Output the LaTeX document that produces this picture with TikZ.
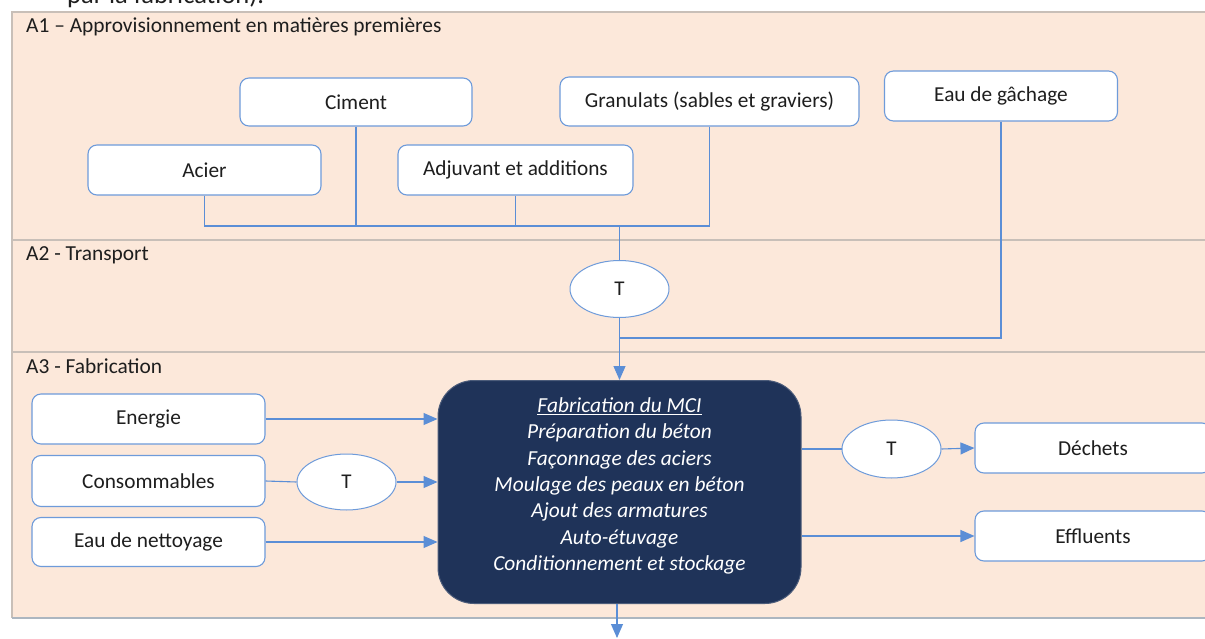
\documentclass[tikz,border=0pt]{standalone}
\usepackage{fontspec}
\setmainfont{Carlito}
\usetikzlibrary{arrows.meta,shapes.geometric}
\definecolor{peach}{RGB}{252,232,218}
\definecolor{bandgray}{RGB}{200,191,184}
\definecolor{bottomgray}{RGB}{172,182,192}
\definecolor{boxblue}{RGB}{110,155,218}
\definecolor{connblue}{RGB}{91,142,214}
\definecolor{navy}{RGB}{31,51,89}
\definecolor{txt}{RGB}{30,30,30}
\tikzset{
  x=1pt, y=-1pt,
  inbox/.style={draw=boxblue, line width=1.1pt, fill=white, rounded corners=9pt,
    inner sep=0pt, font=\fontsize{21.3}{25}\selectfont, text=txt},
  tell/.style={ellipse, draw=boxblue, line width=1pt, fill=white, inner sep=0pt,
    font=\fontsize{21}{25}\selectfont, text=txt},
  conn/.style={draw=connblue, line width=1.1pt},
  arr/.style={conn, -{Triangle[length=14pt,width=12pt]}},
  bandlabel/.style={anchor=base west, inner sep=0pt, font=\fontsize{21.4}{25}\selectfont, text=txt},
}
\begin{document}
\begin{tikzpicture}
\useasboundingbox (0,0) rectangle (1205,639);
% bands
\fill[peach] (12,12) rectangle (1215,618);
\draw[bandgray, line width=1.3pt] (1215,12) -- (12,12) -- (12,618);
\draw[bandgray, line width=1.3pt] (12,240) -- (1215,240);
\draw[bandgray, line width=1.3pt] (12,352) -- (1215,352);
\draw[bottomgray, line width=1.5pt] (12,618) -- (1215,618);
% partial top text (cut off at the top edge, as in the reference)
\node[anchor=base west, inner sep=0pt, font=\fontsize{26.5}{30}\selectfont, text=txt] (toptext) at (67,4) {par la fabrication).};
% band labels
\node[bandlabel] (la1) at (26,33) {A1 – Approvisionnement en matières premières};
\node[bandlabel] (la2) at (26,261) {A2 - Transport};
\node[bandlabel] (la3) at (26,373) {A3 - Fabrication};
% A1 boxes
\node[inbox, minimum width=232pt, minimum height=48pt] (ciment) at (356,102) {Ciment};
\node[inbox, minimum width=299pt, minimum height=49pt] (granulats) at (709.5,101.5) {Granulats (sables et graviers)};
\node[inbox, minimum width=233pt, minimum height=50pt] (eau) at (1001,96) {Eau de gâchage};
\node[inbox, minimum width=233pt, minimum height=50pt] (acier) at (204.5,170) {Acier};
\node[inbox, minimum width=235pt, minimum height=50pt] (adjuv) at (515.5,170) {Adjuvant et additions};
% transport ellipse
\node[tell, minimum width=99pt, minimum height=57pt] (t1) at (619.5,289) {T};
% main box
\node[draw=navy!80!white, line width=1pt, fill=navy, rounded corners=36pt, minimum width=363pt, minimum height=223pt, inner sep=0pt] (main) at (619.5,492) {};
\node[align=center, text=white, font=\fontsize{21.4}{26.3}\selectfont\itshape, inner sep=0pt] (maintext) at (619.5,486)
  {\underline{Fabrication du MCI}\\Préparation du béton\\Façonnage des aciers\\Moulage des peaux en béton\\Ajout des armatures\\Auto-étuvage\\Conditionnement et stockage};
% left boxes
\node[inbox, minimum width=233pt, minimum height=50pt] (energie) at (148.5,419) {Energie};
\node[inbox, minimum width=233pt, minimum height=51pt] (conso) at (148.5,481) {Consommables};
\node[inbox, minimum width=233pt, minimum height=49pt] (nett) at (148.5,542) {Eau de nettoyage};
\node[tell, minimum width=99pt, minimum height=56pt] (t2) at (346.5,482) {T};
% right
\node[tell, minimum width=99pt, minimum height=58pt] (t3) at (891.5,449) {T};
\node[inbox, minimum width=236pt, minimum height=50pt] (dechets) at (1093,448) {Déchets};
\node[inbox, minimum width=236pt, minimum height=50pt] (effluents) at (1093,536) {Effluents};
% coordinates
\coordinate (bus) at (619.5,226);
\coordinate (merge) at (619.5,338);
\coordinate (out) at (617,638);
% A1 connectors
\draw[conn] (acier.south) |- (granulats.south |- bus) -- (granulats.south);
\draw[conn] (ciment.south) -- (ciment.south |- bus);
\draw[conn] (adjuv.south) -- (adjuv.south |- bus);
\draw[conn] (bus) -- (t1.north);
\draw[conn] (eau.south) |- (merge);
\draw[arr] (t1.south) -- (main.north);
% left connectors
\draw[arr] (energie.east) -- (energie.east -| main.west);
\draw[conn] (conso.east) -- (t2.west);
\draw[arr] (t2.east) -- (t2.east -| main.west);
\draw[arr] (nett.east) -- (nett.east -| main.west);
% right connectors
\draw[conn] (main.east |- t3.west) -- (t3.west);
\draw[arr] (t3.east) -- (dechets.west);
\draw[arr] (main.east |- effluents.west) -- (effluents.west);
% output
\draw[arr] (main.south -| out) -- (out);
\end{tikzpicture}
\end{document}
